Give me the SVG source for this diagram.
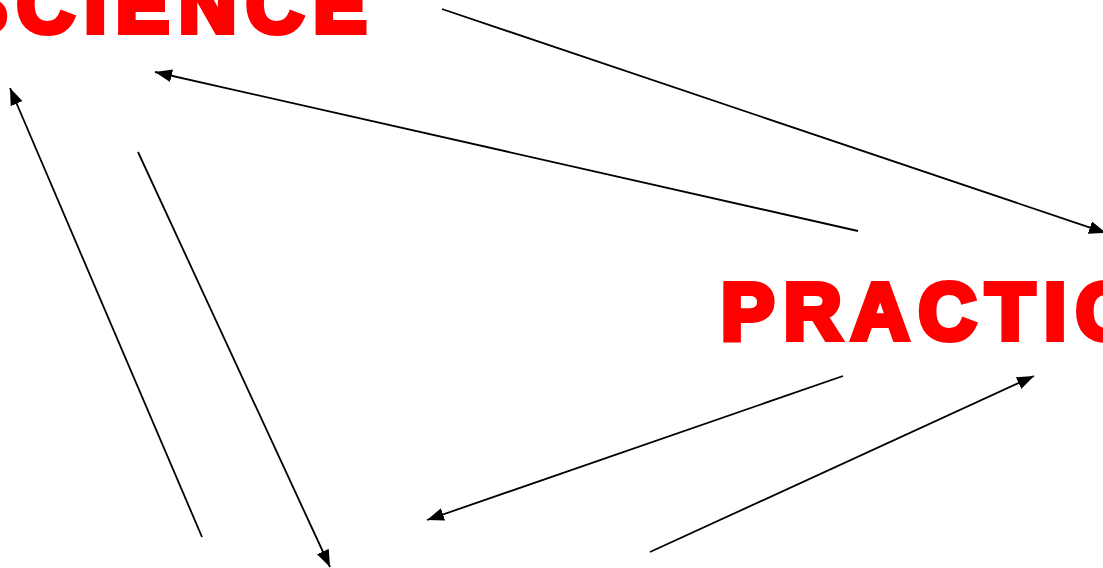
<svg xmlns="http://www.w3.org/2000/svg" width="1103" height="568" viewBox="0 0 1103 568">
<style>
.lbl{font-family:"Liberation Sans",Arial,sans-serif;font-weight:bold;font-size:80px;fill:#ff0000;stroke:#ff0000;stroke-width:6;stroke-linejoin:miter;letter-spacing:9.5px}
.c{stroke:#000;stroke-width:1.8;fill:none;marker-end:url(#ah)}
</style>
<defs>
<marker id="ah" viewBox="0 0 10 10" refX="10" refY="5" markerWidth="17" markerHeight="13" markerUnits="userSpaceOnUse" orient="auto" preserveAspectRatio="none">
<path d="M0,0 L10,5 L0,10 z" fill="#000"/>
</marker>
</defs>
<rect width="1103" height="568" fill="#fff"/>
<g id="science"><text class="lbl" x="-46" y="32">SCIENCE</text></g>
<g id="practice"><text class="lbl" x="721" y="339">PRACTICE</text></g>
<g id="connectors">
<line class="c" x1="442" y1="9" x2="1106" y2="233"/>
<line class="c" x1="858" y1="231" x2="155" y2="72"/>
<line class="c" x1="202" y1="537" x2="10" y2="88"/>
<line class="c" x1="138" y1="152" x2="330" y2="567"/>
<line class="c" x1="843" y1="376" x2="427" y2="520"/>
<line class="c" x1="650" y1="552" x2="1034" y2="376"/>
</g>
</svg>
